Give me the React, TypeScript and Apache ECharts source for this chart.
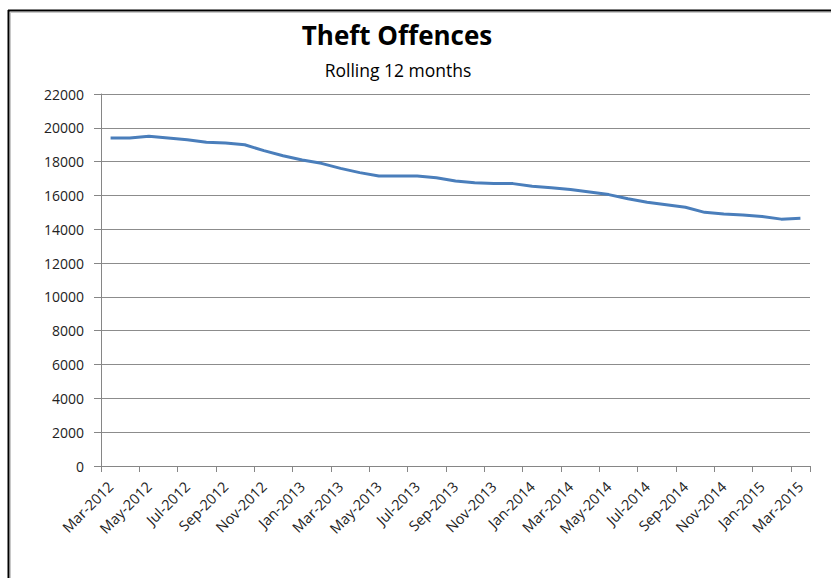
import React, { useEffect, useRef } from "react";
import * as echarts from "echarts";

const months: string[] = [
  "Mar-2012", "Apr-2012", "May-2012", "Jun-2012", "Jul-2012", "Aug-2012", "Sep-2012", "Oct-2012",
  "Nov-2012", "Dec-2012", "Jan-2013", "Feb-2013", "Mar-2013", "Apr-2013", "May-2013", "Jun-2013",
  "Jul-2013", "Aug-2013", "Sep-2013", "Oct-2013", "Nov-2013", "Dec-2013", "Jan-2014", "Feb-2014",
  "Mar-2014", "Apr-2014", "May-2014", "Jun-2014", "Jul-2014", "Aug-2014", "Sep-2014", "Oct-2014",
  "Nov-2014", "Dec-2014", "Jan-2015", "Feb-2015", "Mar-2015",
];

const theftOffences: number[] = [
  19400, 19400, 19500, 19400, 19300, 19150, 19100, 19000,
  18650, 18350, 18100, 17900, 17600, 17350, 17150, 17150,
  17150, 17050, 16850, 16750, 16700, 16700, 16550, 16450,
  16350, 16200, 16050, 15800, 15600, 15450, 15300, 15000,
  14900, 14850, 14750, 14600, 14650,
];

const FONT = "'Open Sans', 'Noto Sans', sans-serif";

export default function App() {
  const ref = useRef<HTMLDivElement>(null);

  useEffect(() => {
    if (!ref.current) return;
    const chart = echarts.init(ref.current, null, { renderer: "svg" });
    chart.setOption({
      animation: false,
      backgroundColor: "#ffffff",
      title: [
        {
          text: "Theft Offences",
          left: 392,
          top: 17,
          textAlign: "center",
          textStyle: { fontFamily: FONT, fontSize: 26, fontWeight: "bold", color: "#000" },
        },
        {
          text: "Rolling 12 months",
          left: 393,
          top: 56,
          textAlign: "center",
          textStyle: { fontFamily: FONT, fontSize: 17.5, fontWeight: "normal", color: "#000" },
        },
      ],
      graphic: [
        { type: "line", shape: { x1: 8.5, y1: 10, x2: 8.5, y2: 578 }, style: { stroke: "#000", lineWidth: 2 } },
        { type: "line", shape: { x1: 8, y1: 10.5, x2: 831, y2: 10.5 }, style: { stroke: "#000", lineWidth: 2 } },
        { type: "line", shape: { x1: 10.5, y1: 12, x2: 10.5, y2: 578 }, style: { stroke: "#c8c8c8", lineWidth: 1 } },
        { type: "line", shape: { x1: 10, y1: 12.5, x2: 831, y2: 12.5 }, style: { stroke: "#c8c8c8", lineWidth: 1 } },
      ],
      grid: { left: 101, right: 21, top: 94, bottom: 112, containLabel: false },
      xAxis: {
        type: "category",
        data: months,
        boundaryGap: true,
        axisLine: { show: true, lineStyle: { color: "#868686", width: 1 } },
        axisTick: { show: true, interval: 1, length: 6, lineStyle: { color: "#868686" } },
        axisLabel: {
          interval: 1,
          rotate: 45,
          margin: 18,
          fontFamily: FONT,
          fontSize: 14.5,
          color: "#222",
        },
        splitLine: { show: false },
      },
      yAxis: {
        type: "value",
        min: 0,
        max: 22000,
        interval: 2000,
        axisLine: { show: true, lineStyle: { color: "#868686", width: 1 } },
        axisTick: { show: true, length: 7, lineStyle: { color: "#868686" } },
        axisLabel: {
          margin: 17,
          fontFamily: FONT,
          fontSize: 14,
          color: "#222",
          formatter: (v: number) => String(v),
        },
        splitLine: { show: true, lineStyle: { color: "#8c8c8c", width: 1 } },
      },
      series: [
        {
          type: "line",
          name: "Theft Offences",
          data: theftOffences,
          showSymbol: false,
          smooth: false,
          lineStyle: { color: "#4A7EBB", width: 3 },
          itemStyle: { color: "#4A7EBB" },
        },
      ],
    });
    return () => chart.dispose();
  }, []);

  return (
    <div
      ref={ref}
      style={{ position: "absolute", left: 0, top: 0, width: 831, height: 578 }}
    />
  );
}
